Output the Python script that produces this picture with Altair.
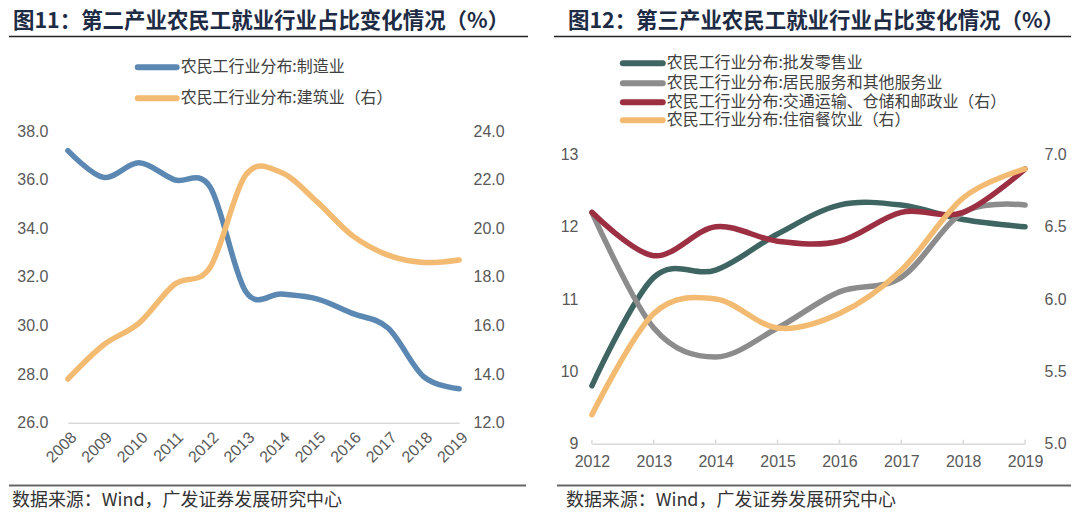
import altair as alt
import pandas as pd

# ---------------- data ----------------
years_l = [2008, 2009, 2010, 2011, 2012, 2013, 2014, 2015, 2016, 2017, 2018, 2019]
manufacturing = [37.2, 36.1, 36.7, 36.0, 35.7, 31.4, 31.3, 31.1, 30.5, 29.9, 27.9, 27.4]
construction = [13.8, 15.2, 16.1, 17.7, 18.4, 22.2, 22.3, 21.1, 19.7, 18.9, 18.6, 18.7]

years_r = [2012, 2013, 2014, 2015, 2016, 2017, 2018, 2019]
wholesale = [9.8, 11.3, 11.4, 11.9, 12.3, 12.3, 12.1, 12.0]
services = [12.2, 10.6, 10.2, 10.6, 11.1, 11.3, 12.2, 12.3]
transport = [6.6, 6.3, 6.5, 6.4, 6.4, 6.6, 6.6, 6.9]
accommodation = [5.2, 5.9, 6.0, 5.8, 5.9, 6.2, 6.7, 6.9]

name_mfg = "农民工行业分布:制造业"
name_con = "农民工行业分布:建筑业（右）"
name_whl = "农民工行业分布:批发零售业"
name_svc = "农民工行业分布:居民服务和其他服务业"
name_trn = "农民工行业分布:交通运输、仓储和邮政业（右）"
name_acc = "农民工行业分布:住宿餐饮业（右）"

c_blue, c_orange, c_green, c_grey, c_red = "#5B88B2", "#F3BA72", "#3E6561", "#8C8C8C", "#9C2F42"

title_l = "图11：第二产业农民工就业行业占比变化情况（%）"
title_r = "图12：第三产业农民工就业行业占比变化情况（%）"
source = "数据来源：Wind，广发证券发展研究中心"

left_ticks_l = [26, 28, 30, 32, 34, 36, 38]
right_ticks_l = [12, 14, 16, 18, 20, 22, 24]
left_ticks_r = [9, 10, 11, 12, 13]
right_ticks_r = [5.0, 5.5, 6.0, 6.5, 7.0]

# ---------------- layout ----------------
WL, HL = 392, 292
WR, HR = 434, 313
CJK = "Noto Sans CJK SC"
NUM = "Liberation Sans"
LABEL_C = "#595959"


def long_df(years, pairs):
    rows = []
    for name, vals, col in pairs:
        for y, v in zip(years, vals):
            rows.append({"year": y, "value": v, "series": name, "color": col})
    return pd.DataFrame(rows)


def line_layer(df, xdom, xaxis, ydom, yaxis):
    return alt.Chart(df).mark_line(
        interpolate="cardinal", strokeWidth=5.5, strokeCap="round"
    ).encode(
        x=alt.X("year:Q", scale=alt.Scale(domain=xdom, nice=False, zero=False), axis=xaxis),
        y=alt.Y("value:Q", scale=alt.Scale(domain=ydom, nice=False, zero=False), axis=yaxis),
        color=alt.Color("color:N", scale=None),
        detail="series:N",
    )


def blank():
    return alt.Data(values=[{"k": 0}])


def txt(text, x, y, size, color, weight="normal", font=CJK):
    return alt.Chart(blank()).mark_text(
        text=text, align="left", baseline="middle", fontSize=size,
        color=color, fontWeight=weight, font=font
    ).encode(x=alt.value(x), y=alt.value(y))


def rule(x1, x2, y, color, width, cap="butt"):
    return alt.Chart(blank()).mark_rule(
        color=color, strokeWidth=width, strokeCap=cap
    ).encode(x=alt.value(x1), x2=alt.value(x2), y=alt.value(y))


def yaxis(orient, values, fmt, pad):
    return alt.Axis(orient=orient, values=values, format=fmt, title=None, domain=False,
                    ticks=False, grid=False, labelPadding=pad, labelFontSize=16,
                    labelColor=LABEL_C, labelFont=NUM)


# ---------- left panel ----------
xaxis_l = alt.Axis(values=years_l, format="d", title=None, labelAngle=-45, ticks=False,
                   domainColor="#D9D9D9", domainWidth=1.5, grid=False, labelPadding=6,
                   labelFlush=False, labelOverlap=False,
                   labelFontSize=16, labelColor=LABEL_C, labelFont=NUM)
df_mfg = long_df(years_l, [(name_mfg, manufacturing, c_blue)])
df_con = long_df(years_l, [(name_con, construction, c_orange)])

left = alt.layer(
    line_layer(df_mfg, [2008, 2019], xaxis_l, [26, 38], yaxis("left", left_ticks_l, ".1f", 20)),
    line_layer(df_con, [2008, 2019], xaxis_l, [12, 24], yaxis("right", right_ticks_l, ".1f", 14)),
    rule(-59, 461, -122, "#FFFFFF", 0.5),
    rule(-59, 461, 379, "#FFFFFF", 0.5),
    txt(title_l, -55, -109, 21.5, "#1E2B45", "bold"),
    rule(-59, 461, -95, "#222222", 1.5),
    rule(70, 109, -64, c_blue, 6, "round"),
    rule(70, 109, -33, c_orange, 6, "round"),
    txt(name_mfg, 113, -64, 16, "#404040"),
    txt(name_con, 113, -33, 16, "#404040"),
    rule(-59, 459, 355, "#666666", 2),
    txt(source, -56, 370, 18, "#333333"),
).resolve_scale(y="independent").properties(width=WL, height=HL)

# ---------- right panel ----------
xaxis_r = alt.Axis(values=years_r, format="d", title=None, labelAngle=0, ticks=False,
                   domainColor="#D9D9D9", domainWidth=1.5, grid=False, labelPadding=10,
                   labelFlush=False, labelOverlap=False,
                   labelFontSize=16, labelColor=LABEL_C, labelFont=NUM)
df_lr = long_df(years_r, [(name_whl, wholesale, c_green), (name_svc, services, c_grey)])
df_rr = long_df(years_r, [(name_trn, transport, c_red), (name_acc, accommodation, c_orange)])
df_ticks = pd.DataFrame({"year": years_r})

ticks_r = alt.Chart(df_ticks).mark_rule(color="#D9D9D9", strokeWidth=1.5).encode(
    x=alt.X("year:Q", scale=alt.Scale(domain=[2012, 2019], nice=False, zero=False), axis=xaxis_r),
    y=alt.value(HR - 4), y2=alt.value(HR),
)

top_extra = 23.3 / 72.5
right = alt.layer(
    ticks_r,
    line_layer(df_lr, [2012, 2019], xaxis_r, [9, 13 + top_extra], yaxis("left", left_ticks_r, "d", 14)),
    line_layer(df_rr, [2012, 2019], xaxis_r, [5, 7 + top_extra / 2], yaxis("right", right_ticks_r, ".1f", 19)),
    rule(-38, 480, -122, "#FFFFFF", 0.5),
    txt(title_r, -24, -109, 21.5, "#1E2B45", "bold"),
    rule(-38, 480, -95, "#222222", 1.5),
    rule(31, 71, -68, c_green, 6, "round"),
    rule(31, 71, -48, c_grey, 6, "round"),
    rule(31, 71, -29, c_red, 6, "round"),
    rule(31, 71, -11, c_orange, 6, "round"),
    txt(name_whl, 75, -68, 16, "#404040"),
    txt(name_svc, 75, -48, 16, "#404040"),
    txt(name_trn, 75, -29, 16, "#404040"),
    txt(name_acc, 75, -11, 16, "#404040"),
    rule(-35, 480, 355, "#666666", 2),
    txt(source, -26, 370, 18, "#333333"),
).resolve_scale(y="independent").properties(width=WR, height=HR)

chart = alt.HConcatChart(hconcat=[left, right], spacing=133, bounds="flush").properties(
    padding=0,
    background="white",
).configure_view(stroke=None)

chart.save("out.html", embed_options={"renderer": "svg", "actions": False})
